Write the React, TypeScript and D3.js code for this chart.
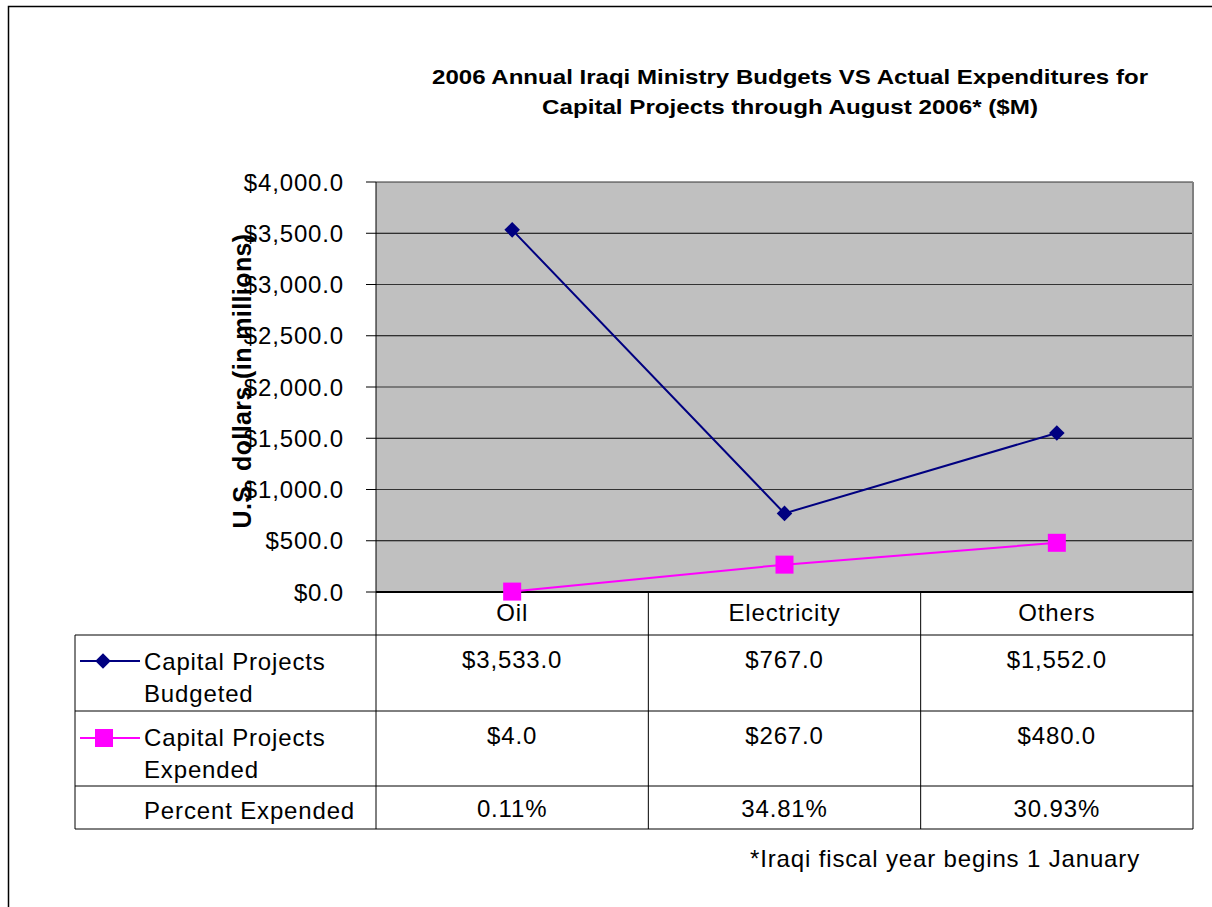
import React from "react";
import * as d3 from "d3";

const categories = ["Oil", "Electricity", "Others"];
const budgeted = [3533, 767, 1552];
const expended = [4, 267, 480];
const percentExpended = ["0.11%", "34.81%", "30.93%"];
const yTicks = [0, 500, 1000, 1500, 2000, 2500, 3000, 3500, 4000];
const seriesNames = [["Capital Projects", "Budgeted"], ["Capital Projects", "Expended"]];
const titleLines = [
  "2006 Annual Iraqi Ministry Budgets VS Actual Expenditures for",
  "Capital Projects through August 2006* ($M)",
];
const footnote = "*Iraqi fiscal year begins 1 January";
const yLabel = "U.S. dollars (in millions)";

const W = 1212, H = 907;
const plot = { x0: 376, x1: 1193, y0: 182, y1: 592 };
const tableLeft = 75;
const rowsY = [635, 711, 786, 829];
const FONT = "Arial, 'Liberation Sans', sans-serif";
const FS = 24;
const LS = 0.85;

export default function App() {
  const x = d3.scaleBand<string>().domain(categories).range([plot.x0, plot.x1]);
  const y = d3.scaleLinear().domain([0, 4000]).range([plot.y1, plot.y0]);
  const cx = (c: string) => (x(c) as number) + x.bandwidth() / 2;
  const line = d3
    .line<number>()
    .x((_, i) => cx(categories[i]))
    .y((d) => y(d));
  const fmt = (v: number) => "$" + d3.format(",.1f")(v);

  return (
    <svg width={W} height={H} style={{ position: "absolute", left: 0, top: 0, background: "#fff" }} fontFamily={FONT}>
      <rect x={8.5} y={6.5} width={1220} height={920} fill="none" stroke="#000" strokeWidth={1.5} />
      {/* title */}
      {titleLines.map((t, i) => (
        <text key={i} x={790} y={84 + i * 30} textAnchor="middle" fontWeight="bold" fontSize={21}
          textLength={i === 0 ? 716 : 496} lengthAdjust="spacingAndGlyphs">{t}</text>
      ))}
      {/* plot area */}
      <rect x={plot.x0} y={plot.y0} width={plot.x1 - plot.x0} height={plot.y1 - plot.y0} fill="#C0C0C0" />
      {yTicks.map((t, i) => (
        <g key={t}>
          <line x1={plot.x0} x2={plot.x1} y1={y(t)} y2={y(t)} stroke={i % 2 ? "#000" : "#333"} strokeWidth={1} />
          <line x1={366} x2={plot.x0} y1={y(t)} y2={y(t)} stroke="#000" strokeWidth={1} />
          <text x={344} y={y(t) + 8.5} textAnchor="end" fontSize={FS} letterSpacing={LS}>{fmt(t)}</text>
        </g>
      ))}
      <line x1={plot.x1} x2={plot.x1} y1={plot.y0} y2={rowsY[3]} stroke="#808080" strokeWidth={2} />
      <line x1={plot.x0} x2={plot.x0} y1={plot.y0} y2={rowsY[3]} stroke="#000" strokeWidth={1} />
      <line x1={plot.x0} x2={plot.x1} y1={plot.y1} y2={plot.y1} stroke="#000" strokeWidth={2} />
      {/* y label */}
      <text transform={`translate(251,381) rotate(-90)`} textAnchor="middle" fontWeight="bold" fontSize={25} letterSpacing={0.4}>{yLabel}</text>
      {/* series */}
      <path d={line(budgeted) || ""} fill="none" stroke="#000080" strokeWidth={2} />
      <path d={line(expended) || ""} fill="none" stroke="#FF00FF" strokeWidth={2} />
      {budgeted.map((v, i) => (
        <rect key={i} x={-5.5} y={-5.5} width={11} height={11} fill="#000080"
          transform={`translate(${cx(categories[i])},${y(v)}) rotate(45)`} />
      ))}
      {expended.map((v, i) => (
        <rect key={i} x={cx(categories[i]) - 9} y={y(v) - 9} width={18} height={18} fill="#FF00FF" />
      ))}
      {/* table */}
      {categories.map((c) => (
        <text key={c} x={cx(c)} y={621} textAnchor="middle" fontSize={FS} letterSpacing={LS}>{c}</text>
      ))}
      {categories.slice(1).map((c) => (
        <line key={c} x1={x(c) as number} x2={x(c) as number} y1={plot.y1} y2={rowsY[3]} stroke="#000" strokeWidth={1} />
      ))}
      {rowsY.map((ry, i) => (
        <line key={i} x1={tableLeft} x2={plot.x1} y1={ry} y2={ry} stroke="#000" strokeWidth={1} />
      ))}
      <line x1={tableLeft} x2={tableLeft} y1={rowsY[0]} y2={rowsY[3]} stroke="#000" strokeWidth={1} />
      {/* legend keys */}
      <line x1={80} x2={140} y1={661} y2={661} stroke="#000080" strokeWidth={2} />
      <rect x={-5.5} y={-5.5} width={11} height={11} fill="#000080" transform="translate(103,661) rotate(45)" />
      <line x1={80} x2={140} y1={738} y2={738} stroke="#FF00FF" strokeWidth={2} />
      <rect x={95} y={729} width={18} height={18} fill="#FF00FF" />
      {seriesNames.map((lines, r) =>
        lines.map((l, k) => (
          <text key={r + "-" + k} x={144} y={670 + r * 76 + k * 32} fontSize={FS} letterSpacing={LS}>{l}</text>
        ))
      )}
      <text x={144} y={819} fontSize={FS} letterSpacing={LS}>Percent Expended</text>
      {categories.map((c, i) => (
        <g key={c}>
          <text x={cx(c)} y={668} textAnchor="middle" fontSize={FS} letterSpacing={LS}>{fmt(budgeted[i])}</text>
          <text x={cx(c)} y={744} textAnchor="middle" fontSize={FS} letterSpacing={LS}>{fmt(expended[i])}</text>
          <text x={cx(c)} y={817} textAnchor="middle" fontSize={FS} letterSpacing={LS}>{percentExpended[i]}</text>
        </g>
      ))}
      <text x={1140} y={867} textAnchor="end" fontSize={FS} letterSpacing={LS}>{footnote}</text>
    </svg>
  );
}
